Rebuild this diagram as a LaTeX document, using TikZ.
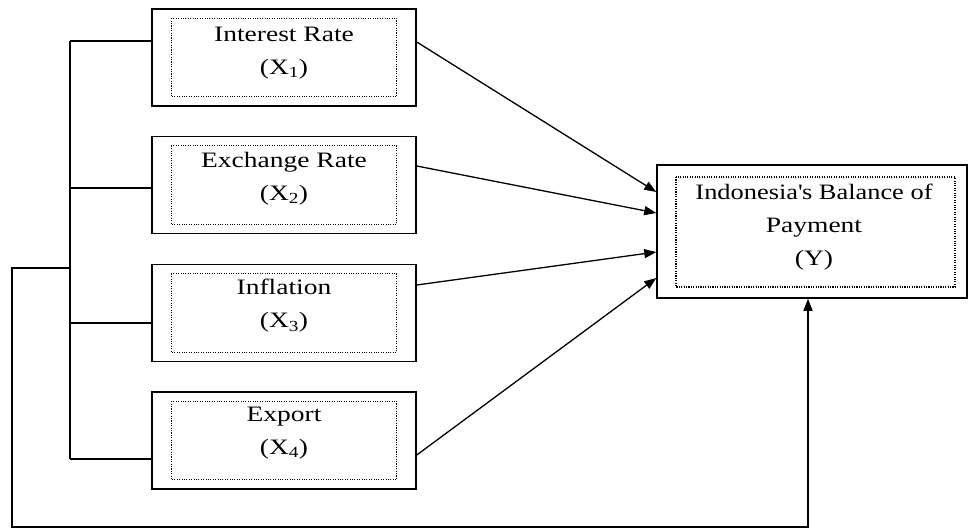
\documentclass[tikz,border=0pt]{standalone}
\usepackage{fontspec}
\setmainfont{Liberation Serif}[FakeStretch=1.25]
\usetikzlibrary{arrows.meta}
\begin{document}
\begin{tikzpicture}[x=1pt,y=-1pt,
  outerbox/.style={draw,line width=1.5pt,minimum width=264pt,minimum height=97pt,inner sep=0pt},
  innerbox/.style={draw,line width=1.4pt,dash pattern=on 1.1pt off 1.3pt},
  lbl/.style={font=\fontsize{22}{33}\selectfont,align=center},
  conn/.style={line width=1.3pt},
  arr/.style={line width=1.3pt,-{Triangle[length=12pt,width=9pt]}}]
\useasboundingbox (0,0) rectangle (968,530);
% left boxes
\node[outerbox] (x1) at (284,57.5) {};
\node[outerbox] (x2) at (284,185) {};
\node[outerbox] (x3) at (284,313) {};
\node[outerbox] (x4) at (284,440.5) {};
\foreach \n in {x1,x2,x3,x4}{
  \draw[innerbox] ([xshift=20pt,yshift=-10pt]\n.north west) rectangle ([xshift=-20pt,yshift=10pt]\n.south east);
}
\node[lbl] (t1) at (284,53) {Interest Rate\\(X\textsubscript{1})};
\node[lbl] (t2) at (284,179) {Exchange Rate\\(X\textsubscript{2})};
\node[lbl] (t3) at (284,306) {Inflation\\(X\textsubscript{3})};
\node[lbl] (t4) at (284,433) {Export\\(X\textsubscript{4})};
% Y box
\node[draw,line width=1.5pt,minimum width=310pt,minimum height=133pt,inner sep=0pt] (y) at (812,231.5) {};
\draw[innerbox] (676,177) rectangle (955,287);
\node[lbl] (ty) at (814,227) {\addfontfeatures{FakeStretch=1.2}Indonesia\textquotesingle s Balance of\\Payment\\(Y)};
% bus
\coordinate (b1) at (70,41);
\coordinate (b2) at (70,188);
\coordinate (b3) at (70,323);
\coordinate (b4) at (70,459);
\coordinate (bf) at (70,268);
\draw[conn] (b1) -- (b4);
\draw[conn] (b1) -- (x1.west |- b1);
\draw[conn] (b2) -- (x2.west |- b2);
\draw[conn] (b3) -- (x3.west |- b3);
\draw[conn] (b4) -- (x4.west |- b4);
\coordinate (f1) at (12,268);
\coordinate (f2) at (12,527);
\coordinate (f3) at (808,527);
\draw[arr] (bf) -- (f1) -- (f2) -- (f3) -- (y.south -| f3);
% arrows
\draw[arr] (x1.east |- 0,42) -- (y.west |- 0,192);
\draw[arr] (x2.east |- 0,166) -- (y.west |- 0,213);
\draw[arr] (x3.east |- 0,285) -- (y.west |- 0,252);
\draw[arr] (x4.east |- 0,455) -- (y.west |- 0,278);
\end{tikzpicture}
\end{document}
